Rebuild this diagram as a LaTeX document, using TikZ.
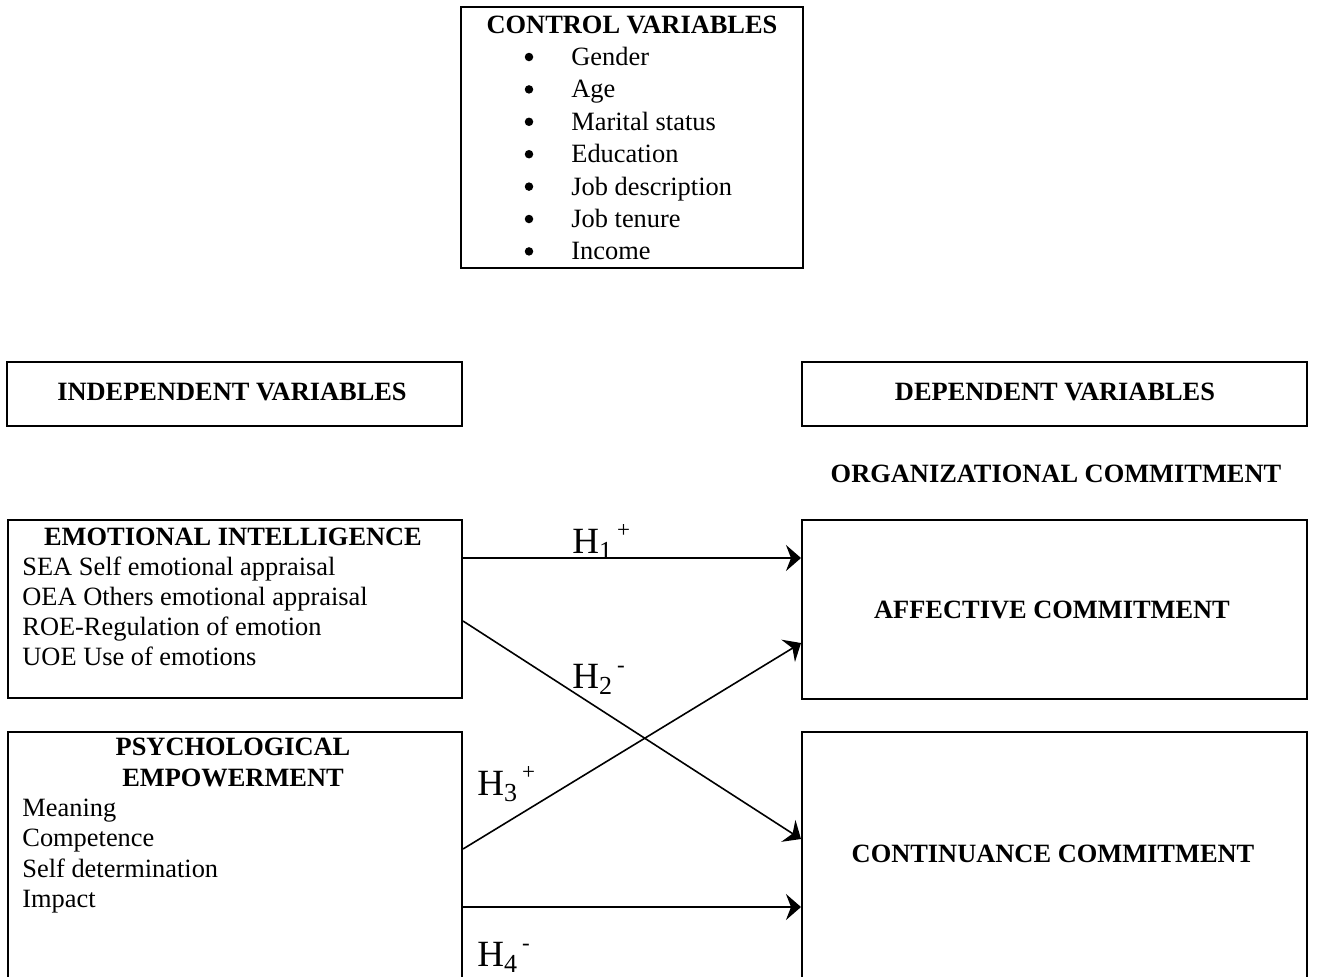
\documentclass[tikz,border=0pt]{standalone}
\usepackage{fontspec}
\setmainfont{Liberation Serif}
\usetikzlibrary{arrows.meta,calc}
\newcommand\hlabel[2]{H\raisebox{-3pt}{\fontsize{13}{14}\selectfont #1}\hspace{2.5pt}\raisebox{8pt}{\fontsize{11.5}{12}\selectfont #2}}
\begin{document}
\begin{tikzpicture}[x=0.5pt,y=-0.5pt,
  box/.style={draw,line width=1pt,inner sep=0pt,rectangle},
  txt/.style={inner sep=0pt,font=\fontsize{13.2}{16}\selectfont},
  bold/.style={inner sep=0pt,anchor=base,font=\fontsize{13.2}{16}\selectfont\bfseries},
  item/.style={txt,anchor=base west},
  dot/.style={circle,fill,inner sep=0pt,minimum size=4.25pt},
  hyp/.style={inner sep=0pt,anchor=base west,font=\fontsize{18.5}{20}\selectfont},
  arr/.style={line width=0.8pt,-{Stealth[length=7.5pt,width=13pt,inset=2.5pt]}}]
\useasboundingbox (0,0) rectangle (1318,976);
\begin{scope}
\clip (0,0) rectangle (1318,976);

% control variables
\node[box,minimum width=171pt,minimum height=130.5pt] (ctrl) at (632,137.5) {};
\node[bold] (ctrlT) at (632,33) {CONTROL VARIABLES};
\foreach \t [count=\k from 0] in {Gender,Age,Marital status,Education,Job description,Job tenure,Income}{
  \node[dot] (b\k) at (529,57+32.4*\k) {};
  \node[item] (c\k) at (571,65.5+32.4*\k) {\t};
}

% headers
\node[box,minimum width=227.5pt,minimum height=32pt] (indep) at (234.5,394) {};
\node[bold] (indepT) at (232,400) {INDEPENDENT VARIABLES};
\node[box,minimum width=252.5pt,minimum height=32pt] (dep) at (1054.5,394) {};
\node[bold] (depT) at (1055,400) {DEPENDENT VARIABLES};
\node[bold] (orgT) at (1056,482) {ORGANIZATIONAL COMMITMENT};

% emotional intelligence
\node[box,minimum width=227pt,minimum height=89pt] (ei) at (235,609) {};
\node[bold] (eiT) at (233,545) {EMOTIONAL INTELLIGENCE};
\foreach \t [count=\k from 0] in {SEA Self emotional appraisal,OEA Others emotional appraisal,ROE-Regulation of emotion,UOE Use of emotions}{
  \node[item] (e\k) at (22,575+30*\k) {\t};
}

% psychological empowerment
\node[box,minimum width=227pt,minimum height=150pt] (pe) at (235,882) {};
\node[bold] (peT1) at (233,755) {PSYCHOLOGICAL};
\node[bold] (peT2) at (233,786) {EMPOWERMENT};
\foreach \t [count=\k from 0] in {Meaning,Competence,Self determination,Impact}{
  \node[item] (p\k) at (22,816.5+30.3*\k) {\t};
}

% outcomes
\node[box,minimum width=252.5pt,minimum height=89.5pt] (aff) at (1054.5,609.5) {};
\node[bold] (affT) at (1052,618) {AFFECTIVE COMMITMENT};
\node[box,minimum width=252.5pt,minimum height=150pt] (cont) at (1054.5,882) {};
\node[bold] (contT) at (1053,862) {CONTINUANCE COMMITMENT};

% hypothesised paths
\draw[arr] ($(ei.north east)+(0,39)$) -- ($(aff.north west)+(0,39)$);
\draw[arr] ($(ei.north east)+(0,102)$) -- ($(cont.north west)+(0,108)$);
\draw[arr] ($(pe.north east)+(0,118)$) -- ($(aff.north west)+(0,124)$);
\draw[arr] ($(pe.north east)+(0,176)$) -- ($(cont.north west)+(0,176)$);

\node[hyp] (h1) at (572,553) {\hlabel{1}{+}};
\node[hyp] (h2) at (572,688) {\hlabel{2}{-}};
\node[hyp] (h3) at (477,795) {\hlabel{3}{+}};
\node[hyp] (h4) at (477,966) {\hlabel{4}{-}};
\end{scope}
\end{tikzpicture}
\end{document}
